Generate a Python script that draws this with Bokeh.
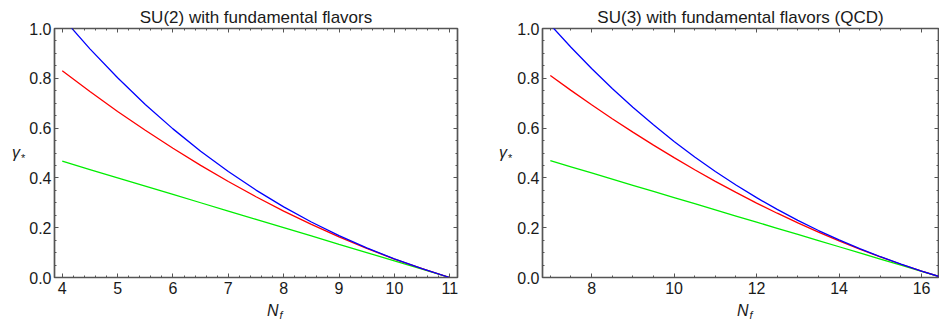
from bokeh.plotting import figure
from bokeh.models import LinearAxis, SingleIntervalTicker, CustomJSTickFormatter, PrintfTickFormatter, Div
from bokeh.layouts import row, column
from bokeh.embed import file_html
from bokeh.resources import INLINE

# ---- data ----
titles = ["SU(2) with fundamental flavors", "SU(3) with fundamental flavors (QCD)"]

su2_nf = [4.0, 4.5, 5.0, 5.5, 6.0, 6.5, 7.0, 7.5, 8.0, 8.5, 9.0, 9.5, 10.0, 10.5, 11.0]
su2_green = [0.4669, 0.4336, 0.4002, 0.3669, 0.3335, 0.3002, 0.2668, 0.2335, 0.2001, 0.1668, 0.1334, 0.1001, 0.0667, 0.0334, 0.0]
su2_red = [0.8300, 0.7467, 0.6670, 0.5911, 0.5188, 0.4503, 0.3854, 0.3243, 0.2668, 0.2131, 0.1630, 0.1168, 0.0741, 0.0353, 0.0]
su2_blue = [1.0444, 0.9183, 0.8020, 0.6951, 0.5969, 0.5073, 0.4254, 0.3511, 0.2837, 0.2229, 0.1680, 0.1189, 0.0747, 0.0354, 0.0]

su3_nf = [7.0, 7.5, 8.0, 8.5, 9.0, 9.5, 10.0, 10.5, 11.0, 11.5, 12.0, 12.5, 13.0, 13.5, 14.0, 14.5, 15.0, 15.5, 16.0, 16.5]
su3_green = [0.4691, 0.4444, 0.4197, 0.3950, 0.3704, 0.3457, 0.3210, 0.2963, 0.2716, 0.2469, 0.2222, 0.1975, 0.1728, 0.1481, 0.1235, 0.0988, 0.0741, 0.0494, 0.0247, 0.0]
su3_red = [0.8114, 0.7516, 0.6937, 0.6378, 0.5838, 0.5316, 0.4813, 0.4328, 0.3863, 0.3417, 0.2990, 0.2582, 0.2193, 0.1822, 0.1472, 0.1140, 0.0826, 0.0532, 0.0256, 0.0]
su3_blue = [1.0150, 0.9247, 0.8396, 0.7594, 0.6840, 0.6131, 0.5465, 0.4841, 0.4258, 0.3714, 0.3206, 0.2734, 0.2295, 0.1886, 0.1509, 0.1159, 0.0834, 0.0534, 0.0256, 0.0]

FONT = "Liberation Sans"
FRAME = "#555555"
TXT = "#1a1a1a"


def make_panel(title, nf, g, r, b, xr, xint, xminor, width, left, right):
    p = figure(width=width, height=300, x_range=xr, y_range=(0, 1),
               output_backend="svg", toolbar_location=None,
               min_border_left=left, min_border_right=right,
               min_border_top=28, min_border_bottom=23,
               x_axis_location=None, y_axis_location=None)
    p.background_fill_color = "white"
    p.border_fill_color = "white"
    p.outline_line_color = FRAME
    p.outline_line_width = 1.7
    p.grid.visible = False

    p.title.text = title
    p.title.align = "center"
    p.title.text_font = FONT
    p.title.text_font_size = "17px"
    p.title.text_font_style = "normal"
    p.title.text_color = TXT
    p.title.standoff = 3

    xt = SingleIntervalTicker(interval=xint, num_minor_ticks=xminor)
    yt = SingleIntervalTicker(interval=0.2, num_minor_ticks=4)

    for loc, tick, lab in [("below", xt, True), ("above", xt, False),
                           ("left", yt, True), ("right", yt, False)]:
        ax = LinearAxis(ticker=tick)
        ax.axis_line_color = None
        ax.major_tick_in = 4
        ax.major_tick_out = 0
        ax.minor_tick_in = 2
        ax.minor_tick_out = 0
        ax.major_tick_line_color = FRAME
        ax.minor_tick_line_color = FRAME
        ax.major_label_text_font = FONT
        ax.major_label_text_font_size = "16px"
        ax.major_label_text_color = TXT
        if lab:
            ax.major_label_standoff = 4 if loc == "below" else 3
            if loc == "left":
                ax.formatter = PrintfTickFormatter(format="%.1f")
        else:
            ax.formatter = CustomJSTickFormatter(code="return ''")
            ax.major_label_standoff = 0
            ax.major_label_text_font_size = "0px"
        p.add_layout(ax, loc)

    p.line(nf, g, line_color="#00ee00", line_width=1.3)
    p.line(nf, r, line_color="#ff0000", line_width=1.3)
    p.line(nf, b, line_color="#0000ff", line_width=1.3)
    return p


def ylabel_div(width, pad_left):
    html = ('<div style="padding-left:%dpx;padding-top:144px;font-family:\'Liberation Sans\';'
            'font-size:16px;line-height:18px;color:#1a1a1a;white-space:nowrap">'
            '<i>γ</i><span style="font-size:11px;position:relative;top:4px;margin-left:1px">*</span></div>'
            % pad_left)
    return Div(text=html, width=width, height=326, margin=0)


def xlabel_div(width, pad_left):
    html = ('<div style="padding-left:%dpx;padding-top:2px;font-family:\'Liberation Sans\';'
            'font-size:16px;line-height:18px;color:#1a1a1a;white-space:nowrap">'
            '<i>N</i><span style="font-size:11px;font-style:italic;position:relative;top:3px;margin-left:1px">f</span></div>'
            % pad_left)
    return Div(text=html, width=width, height=26, margin=0)


p1 = make_panel(titles[0], su2_nf, su2_green, su2_red, su2_blue,
                (3.86, 11.14), 1, 5, 444, 27, 13)
p2 = make_panel(titles[1], su3_nf, su3_green, su3_red, su3_blue,
                (6.81, 16.41), 2, 4, 427, 30, 1)

layout = row(ylabel_div(26, 12), column(p1, xlabel_div(444, 241)),
             ylabel_div(42, 29), column(p2, xlabel_div(427, 225)))
open("out.html", "w").write(file_html(layout, INLINE))
